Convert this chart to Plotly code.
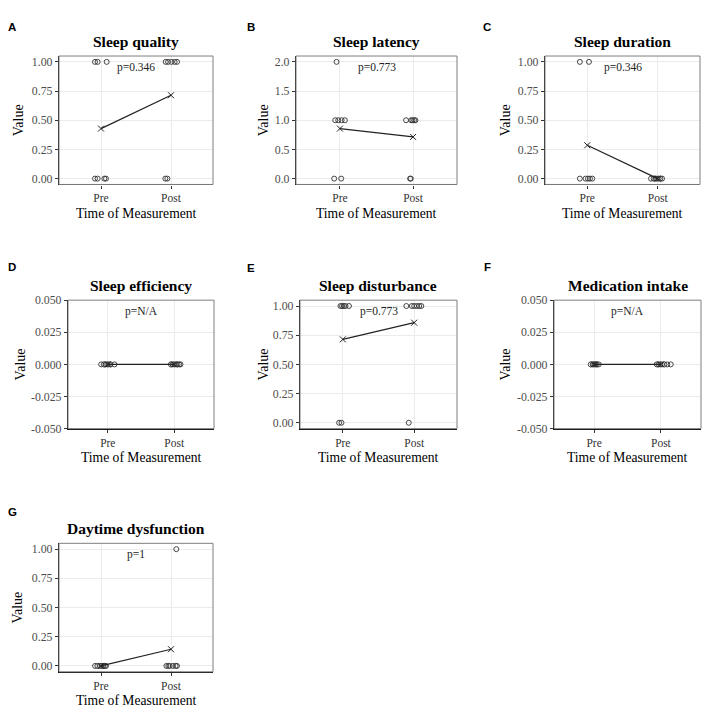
import numpy as np
import plotly.graph_objects as go

W, H = 708, 717

# ---------------- data ----------------
panel_letters = ["A", "B", "C", "D", "E", "F", "G"]
panel_titles = ["Sleep quality", "Sleep latency", "Sleep duration", "Sleep efficiency",
                "Sleep disturbance", "Medication intake", "Daytime dysfunction"]
p_labels = ["p=0.346", "p=0.773", "p=0.346", "p=N/A", "p=0.773", "p=N/A", "p=1"]
time_labels = ["Pre", "Post"]

quality_pre = [1, 1, 1, 0, 0, 0, 0]
quality_post = [1, 1, 1, 1, 1, 0, 0]
quality_pre_jit = [-0.086, -0.048, 0.081, -0.086, -0.048, 0.048, 0.071]
quality_post_jit = [-0.076, -0.043, 0.005, 0.052, 0.086, -0.081, -0.052]

latency_pre = [2, 1, 1, 1, 1, 0, 0]
latency_post = [1, 1, 1, 1, 1, 0, 0]
latency_pre_jit = [-0.046, -0.064, -0.023, 0.023, 0.068, -0.078, 0.018]
latency_post_jit = [-0.096, -0.027, -0.009, 0.014, 0.032, -0.041, -0.032]

duration_pre = [1, 1, 0, 0, 0, 0, 0]
duration_post = [0, 0, 0, 0, 0, 0, 0]
duration_pre_jit = [-0.105, 0.024, -0.105, -0.024, 0.01, 0.038, 0.071]
duration_post_jit = [-0.095, -0.057, -0.033, -0.01, 0.014, 0.038, 0.062]

efficiency_pre = [0, 0, 0, 0, 0, 0, 0]
efficiency_post = [0, 0, 0, 0, 0, 0, 0]
efficiency_pre_jit = [-0.1, -0.06, -0.035, -0.01, 0.015, 0.04, 0.1]
efficiency_post_jit = [-0.05, -0.025, 0.0, 0.025, 0.05, 0.075, 0.095]

disturbance_pre = [1, 1, 1, 1, 1, 0, 0]
disturbance_post = [1, 1, 1, 1, 1, 1, 0]
disturbance_pre_jit = [-0.033, -0.01, 0.014, 0.038, 0.086, -0.052, -0.019]
disturbance_post_jit = [-0.11, -0.033, 0.0, 0.038, 0.071, 0.1, -0.076]

medication_pre = [0, 0, 0, 0, 0, 0, 0]
medication_post = [0, 0, 0, 0, 0, 0, 0]
medication_pre_jit = [-0.05, -0.02, 0.01, 0.04, 0.07, 0.025, -0.01]
medication_post_jit = [-0.063, -0.037, -0.01, 0.016, 0.053, 0.095, 0.147]

daytime_pre = [0, 0, 0, 0, 0, 0, 0]
daytime_post = [1, 0, 0, 0, 0, 0, 0]
daytime_pre_jit = [-0.085, -0.052, -0.014, 0.01, 0.033, 0.057, 0.071]
daytime_post_jit = [0.076, -0.066, -0.038, -0.019, 0.028, 0.066, 0.085]

ytick_vals_unit = [0, 0.25, 0.5, 0.75, 1.0]
ytick_text_unit = ["0.00", "0.25", "0.50", "0.75", "1.00"]
ytick_vals_two = [0, 0.5, 1.0, 1.5, 2.0]
ytick_text_two = ["0.0", "0.5", "1.0", "1.5", "2.0"]
ytick_vals_zero = [-0.05, -0.025, 0, 0.025, 0.05]
ytick_text_zero = ["-0.050", "-0.025", "0.000", "0.025", "0.050"]

panels_pre = [quality_pre, latency_pre, duration_pre, efficiency_pre,
              disturbance_pre, medication_pre, daytime_pre]
panels_post = [quality_post, latency_post, duration_post, efficiency_post,
               disturbance_post, medication_post, daytime_post]
panels_pre_jit = [quality_pre_jit, latency_pre_jit, duration_pre_jit, efficiency_pre_jit,
                  disturbance_pre_jit, medication_pre_jit, daytime_pre_jit]
panels_post_jit = [quality_post_jit, latency_post_jit, duration_post_jit, efficiency_post_jit,
                   disturbance_post_jit, medication_post_jit, daytime_post_jit]
panels_ticks = [(ytick_vals_unit, ytick_text_unit, [-0.05, 1.05]),
                (ytick_vals_two, ytick_text_two, [-0.1, 2.1]),
                (ytick_vals_unit, ytick_text_unit, [-0.05, 1.05]),
                (ytick_vals_zero, ytick_text_zero, [-0.05, 0.05]),
                (ytick_vals_unit, ytick_text_unit, [-0.05, 1.05]),
                (ytick_vals_zero, ytick_text_zero, [-0.05, 0.05]),
                (ytick_vals_unit, ytick_text_unit, [-0.05, 1.05])]

# ---------------- layout (pixel boxes: x0, x1, y0, y1) ----------------
boxes = [(59, 213, 50, 181), (296, 457, 50, 181), (545, 700, 50, 181),
         (68, 214, 299, 430), (300, 457, 299, 430), (554, 701, 299, 430),
         (59, 213, 547, 678)]
letter_pos = [(12, 20), (251, 20), (487, 20), (12, 265), (251, 266), (487, 265), (12, 515)]
value_x = [18, 263, 505, 20, 263, 505, 18]

SERIF = "Liberation Serif"
SANS = "Liberation Sans"

def px(x):
    return x / W

def py(y):
    return 1 - y / H

fig = go.Figure()
annotations = []
shapes = []
layout_axes = {}

for i in range(7):
    x0, x1, y0, y1 = boxes[i]
    n = i + 1
    xa = "x" if n == 1 else f"x{n}"
    ya = "y" if n == 1 else f"y{n}"
    xkey = "xaxis" if n == 1 else f"xaxis{n}"
    ykey = "yaxis" if n == 1 else f"yaxis{n}"
    tv, tt, yr = panels_ticks[i]

    pre = np.array(panels_pre[i], dtype=float)
    post = np.array(panels_post[i], dtype=float)
    xs = list(1 + np.array(panels_pre_jit[i])) + list(2 + np.array(panels_post_jit[i]))
    ys = list(pre) + list(post)

    fig.add_trace(go.Scatter(
        x=xs, y=ys, mode="markers", xaxis=xa, yaxis=ya, showlegend=False,
        marker=dict(symbol="circle-open", size=5, color="#333333", line=dict(width=0.9)),
        hoverinfo="skip"))
    fig.add_trace(go.Scatter(
        x=[1, 2], y=[pre.mean(), post.mean()], mode="lines+markers", xaxis=xa, yaxis=ya,
        showlegend=False, line=dict(color="#222222", width=1.2),
        marker=dict(symbol="x-thin-open", size=6, color="#222222", line=dict(width=1, color="#222222")),
        hoverinfo="skip"))

    layout_axes[xkey] = dict(
        domain=[px(x0), px(x1)], anchor=ya, range=[0.4, 2.6],
        tickvals=[1, 2], ticktext=time_labels, showgrid=True, gridcolor="#EBEBEB", gridwidth=1,
        zeroline=False, ticks="outside", ticklen=3, tickcolor="#333333",
        tickfont=dict(family=SERIF, size=11.5, color="#333333"),
        showline=True, linecolor="#111111", linewidth=1.3, fixedrange=True)
    layout_axes[ykey] = dict(
        domain=[py(y1), py(y0)], anchor=xa, range=yr,
        tickvals=tv, ticktext=tt, showgrid=True, gridcolor="#EBEBEB", gridwidth=1,
        zeroline=False, ticks="outside", ticklen=3, tickcolor="#333333",
        tickfont=dict(family=SERIF, size=11.8, color="#4D4D4D"),
        showline=True, linecolor="#111111", linewidth=1.3, fixedrange=True)

    shapes.append(dict(type="rect", xref="paper", yref="paper",
                       x0=px(x0), x1=px(x1), y0=py(y1), y1=py(y0),
                       line=dict(color="#7F7F7F", width=1), layer="above"))

    cx = (x0 + x1) / 2
    annotations.append(dict(text=f"<b>{panel_titles[i]}</b>", x=px(cx), y=py(y0 - 15),
                            xref="paper", yref="paper", showarrow=False,
                            xanchor="center", yanchor="middle",
                            font=dict(family=SERIF, size=15.5, color="#000000")))
    lx, ly = letter_pos[i]
    annotations.append(dict(text=f"<b>{panel_letters[i]}</b>", x=px(lx), y=py(ly),
                            xref="paper", yref="paper", showarrow=False,
                            xanchor="center", yanchor="middle",
                            font=dict(family=SANS, size=11.5, color="#000000")))
    annotations.append(dict(text=p_labels[i], x=1.5, y=1, xref=xa, yref=f"{ya} domain",
                            showarrow=False, xanchor="center", yanchor="top", yshift=-3,
                            font=dict(family=SERIF, size=11.5, color="#222222")))
    annotations.append(dict(text="Value", x=px(value_x[i]), y=py((y0 + y1) / 2),
                            xref="paper", yref="paper", showarrow=False, textangle=-90,
                            xanchor="center", yanchor="middle",
                            font=dict(family=SERIF, size=14, color="#000000")))
    annotations.append(dict(text="Time of Measurement", x=px(cx), y=py(y1 + 29.5),
                            xref="paper", yref="paper", showarrow=False,
                            xanchor="center", yanchor="middle",
                            font=dict(family=SERIF, size=13.6, color="#000000")))

fig.update_layout(
    width=W, height=H, autosize=False,
    margin=dict(l=0, r=0, t=0, b=0),
    paper_bgcolor="white", plot_bgcolor="white",
    annotations=annotations, shapes=shapes, **layout_axes)

post_js = """
var st = 'margin:0;padding:0;overflow:hidden;';
document.documentElement.style.cssText = st;
document.body.style.cssText = st;
"""

fig.write_html("out.html", config={"displayModeBar": False}, post_script=post_js)
